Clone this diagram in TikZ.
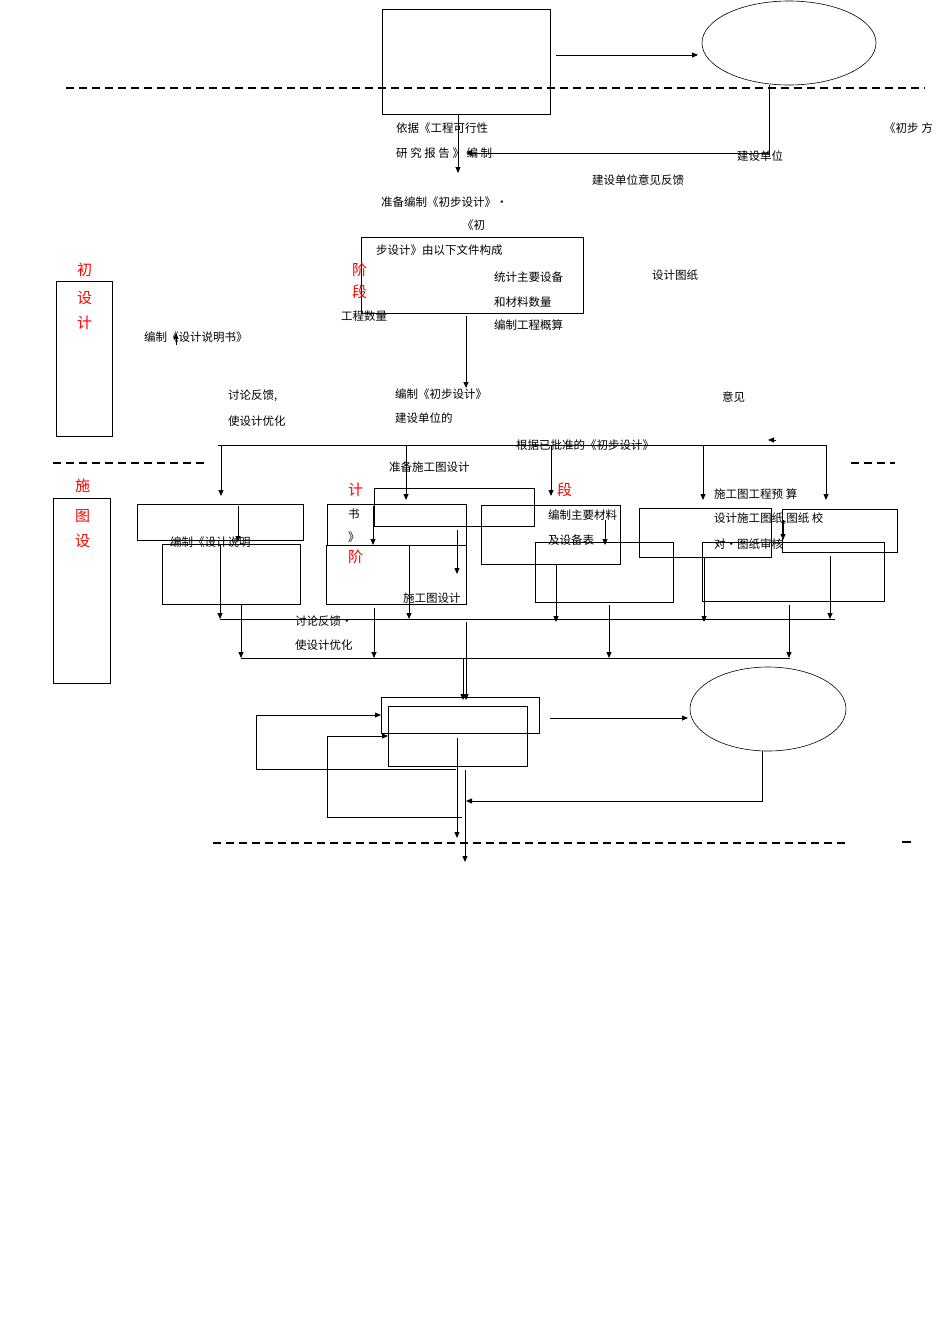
\documentclass[tikz,border=0pt]{standalone}
\usepackage{fontspec}
\setmainfont{Noto Sans CJK SC}
\usetikzlibrary{arrows.meta,shapes.geometric}
\begin{document}
\begin{tikzpicture}[x=1pt,y=-1pt,
  t/.style={anchor=west,inner sep=0pt,font=\fontsize{11.5}{13}\selectfont},
  rt/.style={t,text=red,font=\fontsize{15}{16}\selectfont},
  bx/.style={draw,line width=0.6pt},
  ar/.style={-{Triangle[length=6pt,width=5pt]},line width=0.8pt},
  dl/.style={dashed,dash pattern=on 8pt off 5pt,line width=1.6pt}]
\useasboundingbox (0,0) rectangle (950,1344);
% top
\node[bx,minimum width=168pt,minimum height=105pt] (r1) at (466,62) {};
\node[bx,ellipse,minimum width=174pt,minimum height=84pt] (e1) at (789,43) {};
\draw[ar] (556,55) -- (698,55);
\draw[dl] (66,88) -- (925,88);
\node[t] (a1) at (396,128) {依据《工程可行性};
\node[t] (a2) at (396,153) {研\ 究\ 报\ 告\ 》\ 编\ 制};
\node[t] (a3) at (884,128) {《初步 方};
\coordinate (c1) at (769,85);
\draw[ar] (c1) |- (466,153);
\draw[ar] (458,115) -- (458,173);
\node[t] (a4) at (737,156) {建设单位};
\node[t] (a5) at (592,180) {建设单位意见反馈};
\node[t] (a6) at (381,202) {准备编制《初步设计》·};
\node[t] (a7) at (462,225) {《初};
\draw[bx] (361,237) rectangle (583,313);
\node[t] (a8) at (376,250) {步设计》由以下文件构成};
\node[rt] (r2) at (352,270) {阶};
\node[rt] (r3) at (352,292) {段};
\node[t] (a9) at (494,277) {统计主要设备};
\node[t] (a10) at (494,302) {和材料数量};
\node[t] (a11) at (494,325) {编制工程概算};
\node[t] (a12) at (652,275) {设计图纸};
\node[t] (a13) at (341,316) {工程数量};
\node[rt] (r4) at (77,270) {初};
\node[rt] (r5) at (77,298) {设};
\node[rt] (r6) at (77,323) {计};
\draw[bx] (56,281) rectangle (112,436);
\node[t] (a14) at (144,337) {编制《设计说明书》};
\draw[ar] (176,345) -- (176,333);
\draw[ar] (466,316) -- (466,388);
\node[t] (a15) at (228,396) {讨论反馈,};
\node[t] (a16) at (228,421) {使设计优化};
\node[t] (a17) at (395,394) {编制《初步设计》};
\node[t] (a18) at (395,418) {建设单位的};
\node[t] (a19) at (722,397) {意见};
\node[t] (a20) at (516,445) {根据已批准的《初步设计》};
\draw[ar] (776,440) -- (768,440);
\draw[line width=0.8pt] (218,445) -- (826,445);
\foreach \x/\y in {221/496,406/500,551/496,703/500,826/500} \draw[ar] (\x,445) -- (\x,\y);
\draw[dl] (53,463) -- (207,463);
\draw[dl] (851,463) -- (895,463);
\node[t] (a21) at (389,467) {准备施工图设计};
\node[rt] (r7) at (75,486) {施};
\node[rt] (r8) at (75,516) {图};
\node[rt] (r9) at (75,541) {设};
\draw[bx] (53,498) rectangle (110,683);
\node[rt] (r10) at (348,490) {计};
\node[t] (a22) at (348,514) {书};
\node[t] (a23) at (348,537) {》};
\node[rt] (r11) at (348,557) {阶};
\node[rt] (r12) at (557,490) {段};
\foreach \a/\b/\c/\d in {137/504/303/540,162/544/300/604,327/504/466/545,326/545/466/604,374/488/534/526,481/505/620/564,535/542/673/602,639/508/771/557,782/509/897/552,702/542/884/601}
  \draw[bx] (\a,\b) rectangle (\c,\d);
\node[t] (a24) at (170,542) {编制《设计说明};
\node[t] (a25) at (548,515) {编制主要材料};
\node[t] (a26) at (548,540) {及设备表};
\node[t] (a27) at (714,494) {施工图工程预 算};
\node[t] (a28) at (714,519) {设计施工图纸,图纸 校};
\node[t] (a29) at (714,544) {对·图纸审核};
\node[t] (a30) at (403,598) {施工图设计};
\node[t] (a31) at (295,621) {讨论反馈·};
\node[t] (a32) at (295,645) {使设计优化};
\foreach \x/\a/\b in {238/506/542,373/506/545,457/530/574,605/520/545,783/520/540,220/545/619,409/545/619,556/565/622,704/558/622,830/556/619}
  \draw[ar] (\x,\a) -- (\x,\b);
\draw[line width=0.8pt] (220,619) -- (835,619);
\draw[line width=0.8pt] (241,658) -- (790,658);
\foreach \x/\a in {241/604,374/608,609/605,789/605}
  \draw[ar] (\x,\a) -- (\x,658);
\draw[ar] (466,622) -- (466,700);
\draw[ar] (463,658) -- (463,700);
% bottom
\draw[bx] (381,697) rectangle (539,733);
\draw[bx] (388,706) rectangle (527,766);
\node[bx,ellipse,minimum width=156pt,minimum height=84pt] (e2) at (768,709) {};
\draw[ar] (550,718) -- (688,718);
\draw[line width=0.8pt] (456,769) -- (256,769) -- (256,715);
\draw[ar] (256,715) -- (381,715);
\draw[line width=0.8pt] (462,817) -- (327,817) -- (327,736);
\draw[ar] (327,736) -- (388,736);
\draw[ar] (762,751) |- (466,801);
\draw[ar] (457,738) -- (457,838);
\draw[ar] (465,770) -- (465,862);
\draw[dl] (213,843) -- (845,843);
\draw[line width=1.6pt] (902,842) -- (911,842);
\end{tikzpicture}
\end{document}
